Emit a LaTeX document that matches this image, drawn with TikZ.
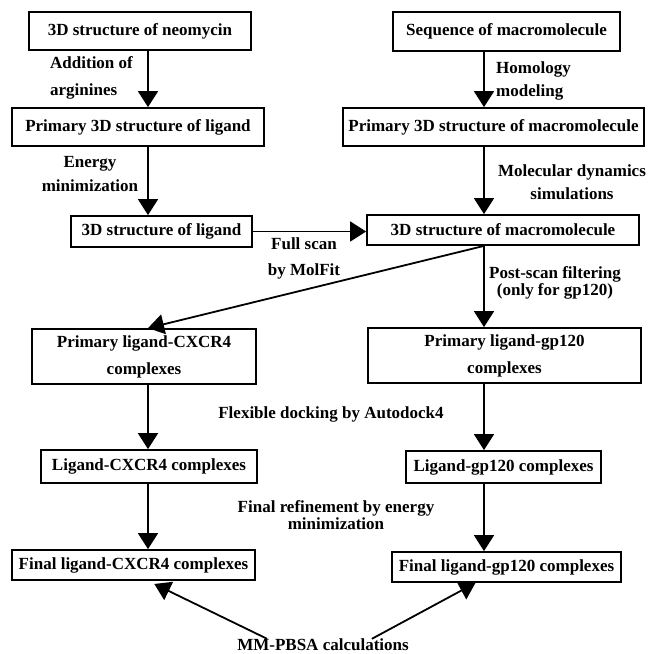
\documentclass[tikz,border=0pt]{standalone}
\usepackage{fontspec}
\setmainfont{Liberation Serif}
\usetikzlibrary{arrows.meta}

\tikzset{
	box/.style={draw, line width=1.8pt, inner sep=0pt, align=center,
		font=\fontsize{17}{27}\selectfont\bfseries},
	lbl/.style={inner sep=0pt, font=\fontsize{17}{24}\selectfont\bfseries},
	tightlbl/.style={inner sep=0pt, align=center,
		font=\fontsize{17}{20}\selectfont\bfseries},
	arr/.style={line width=1.8pt, -{Triangle[length=16pt,width=20pt]}}
}

\begin{document}
\begin{tikzpicture}[x=1pt,y=-1pt]
		
		\useasboundingbox (0,0) rectangle (649,654);
		
		\coordinate (colL) at (148,0);
		\coordinate (colR) at (484,0);
		
		\node[box, minimum width=222pt, minimum height=38pt] (neo) at (140,31) {3D structure of neomycin};
		\node[box, minimum width=252pt, minimum height=38pt] (pligand) at (138,127) {Primary 3D structure of ligand};
		\node[box, minimum width=181pt, minimum height=31pt] (ligand) at (161.5,231.5) {3D structure of ligand};
		
		\node[box, minimum width=227pt, minimum height=39pt] (seq) at (506.5,31.5) {Sequence of macromolecule};
		\node[box, minimum width=301pt, minimum height=38pt] (pmacro) at (493.5,127) {Primary 3D structure of macromolecule};
		\node[box, minimum width=272pt, minimum height=30pt] (macro) at (503,230) {3D structure of macromolecule};
		
		\node[box, minimum width=224pt, minimum height=55pt] (pcx) at (144,356.5) {Primary ligand-CXCR4\\complexes};
		\node[box, minimum width=216pt, minimum height=33pt] (lcx) at (149,466.5) {Ligand-CXCR4 complexes};
		\node[box, minimum width=243pt, minimum height=30pt] (fcx) at (133.5,565) {Final ligand-CXCR4 complexes};
		
		\node[box, minimum width=273pt, minimum height=55pt] (pgp) at (504.5,355.5) {Primary ligand-gp120\\complexes};
		\node[box, minimum width=195pt, minimum height=32pt] (lgp) at (503.5,467) {Ligand-gp120 complexes};
		\node[box, minimum width=229pt, minimum height=30pt] (fgp) at (506.5,567) {Final ligand-gp120 complexes};
		
		\node[lbl, align=left, anchor=west, font=\fontsize{17}{27}\selectfont\bfseries] (addarg) at (50,77.5) {Addition of\\arginines};
		\node[lbl, align=center] (emin) at (90,174) {Energy\\minimization};
		\node[lbl, align=left, anchor=west, font=\fontsize{17}{23}\selectfont\bfseries] (homol) at (496,80.5) {Homology\\modeling};
		\node[lbl, align=center, font=\fontsize{17}{23}\selectfont\bfseries] (moldyn) at (572,182.5) {Molecular dynamics\\simulations};
		\node[lbl, align=center, font=\fontsize{17}{26}\selectfont\bfseries] (scan) at (304,258) {Full scan\\by MolFit};
		\node[tightlbl] (filt) at (555,282.5) {Post-scan filtering\\[-3pt](only for gp120)};
		\node[lbl] (dock) at (331,414) {Flexible docking by Autodock4};
		\node[tightlbl] (refine) at (336,515.5) {Final refinement by energy\\[-3pt]minimization};
		\node[lbl] (mm) at (323,645) {MM-PBSA calculations};
		
		\draw[arr] (neo.south -| colL) -- (pligand.north -| colL);
		\draw[arr] (pligand.south -| colL) -- (ligand.north -| colL);
		\draw[arr] (seq.south -| colR) -- (pmacro.north -| colR);
		\draw[arr] (pmacro.south -| colR) -- (macro.north -| colR);
		\draw[arr] (ligand.east) -- (ligand.east -| macro.west);
		
		\draw[arr] (macro.south -| colR) -- (pcx.north -| colL);
		\draw[arr] (macro.south -| colR) -- (pgp.north -| colR);
		\draw[arr] (pcx.south -| colL) -- (lcx.north -| colL);
		\draw[arr] (pgp.south -| colR) -- (lgp.north -| colR);
		\draw[arr] (lcx.south -| colL) -- (fcx.north -| colL);
		\draw[arr] (lgp.south -| colR) -- (fgp.north -| colR);
		
		\draw[arr, shorten >=7pt] ([xshift=30pt]mm.north west) -- (fcx.south -| colL);
		\draw[arr] ([xshift=-37pt]mm.north east) -- ([xshift=-31pt]fgp.south);
		
	\end{tikzpicture}
\end{document}
